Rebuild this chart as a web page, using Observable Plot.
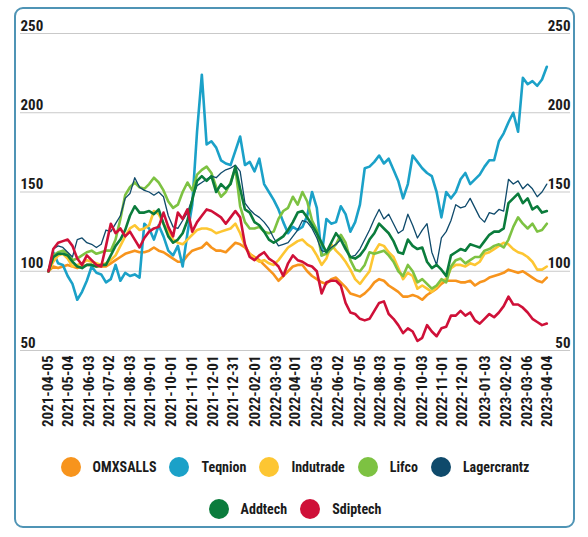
<!DOCTYPE html>
<html>
<head>
<meta charset="utf-8">
<script src="https://cdn.jsdelivr.net/npm/d3@7"></script>
<script src="https://cdn.jsdelivr.net/npm/@observablehq/plot@0.6"></script>
<style>
  html, body { margin: 0; padding: 0; background: #fff; }
  body { width: 588px; height: 537px; position: relative; overflow: hidden;
    font-family: "Roboto Condensed", "Liberation Sans Narrow", "DejaVu Sans Condensed", sans-serif; font-weight: bold; }
  #frame { position: absolute; left: 14px; top: 7px; width: 557px; height: 517px;
    border: 2.5px solid #4f94b5; border-radius: 9px; }
  #chart { position: absolute; left: 0; top: 0; }
  #legend { position: absolute; left: 17px; width: 556px; top: 456px; }
  .row { display: flex; justify-content: center; align-items: center; height: 22px; margin-bottom: 20px; }
  .item { display: flex; align-items: center; margin: 0 6.5px; font-size: 14px; color: #1b1b1b; }
  .dot { width: 20px; height: 20px; border-radius: 50%; margin-right: 12px; }
</style>
</head>
<body>
<div id="frame"></div>
<div id="chart"></div>
<div id="legend"></div>
<script>
const seriesNames = ["OMXSALLS", "Teqnion", "Indutrade", "Lifco", "Lagercrantz", "Addtech", "Sdiptech"];
const seriesColors = ["#f7941d", "#1ba1c8", "#fdc632", "#7dc242", "#0f4a6b", "#0b7c3c", "#cf1038"];
const seriesWidths = [2.6, 2.6, 2.6, 2.6, 1.3, 2.6, 2.6];

const yTicks = [50, 100, 150, 200, 250];
const xTickLabels = ["2021-04-05","2021-05-04","2021-06-03","2021-07-02","2021-08-03","2021-09-01","2021-10-01","2021-11-01","2021-12-01","2021-12-31","2022-02-01","2022-03-03","2022-04-01","2022-05-03","2022-06-02","2022-07-05","2022-08-03","2022-09-01","2022-10-03","2022-11-01","2022-12-01","2023-01-03","2023-02-02","2023-03-06","2023-04-04"];

// weekly closes, indexed to 100 at 2021-04-05
const omxsalls = [100,103,102,103,104,103,102,103,104,104,
103,103,103,105,107,109,111,112,113,112,
112,113,115,113,112,110,108,106,106,110,
113,114,115,118,115,113,113,112,115,118,
117,115,111,109,107,104,101,98,94,97,
100,103,104,104,100,97,95,93,92,95,
96,93,90,86,85,84,86,89,93,95,
94,91,89,87,84,84,85,84,82,85,
87,89,92,94,94,94,93,93,94,91,
93,94,96,97,98,99,101,100,99,100,
98,96,94,93,96];
const teqnion = [100,112,105,104,97,92,82,87,94,103,
99,98,93,95,104,94,99,97,98,96,
130,127,120,129,122,113,110,116,103,124,
142,188,224,180,182,178,170,168,167,176,
185,167,169,163,171,155,150,145,139,131,
124,128,126,128,135,150,140,110,133,130,
131,141,136,125,131,142,165,166,169,173,
168,171,164,157,146,155,173,169,165,162,
160,150,134,150,146,150,158,162,155,158,
161,166,170,170,182,187,194,200,188,222,
218,220,217,221,229];
const indutrade = [100,106,110,111,108,103,104,105,107,106,
105,104,105,107,110,116,122,127,129,126,
127,129,138,136,130,125,120,118,117,120,
123,126,127,127,126,124,125,126,127,130,
124,116,111,108,106,107,105,104,107,111,
115,117,119,120,117,115,110,104,108,117,
113,110,106,101,95,92,96,100,112,117,
116,112,109,102,95,99,97,89,91,89,
87,90,94,95,102,104,104,103,105,104,
106,111,112,114,116,118,117,114,112,111,
109,106,101,101,103];
const lifco = [100,110,112,113,111,107,108,110,112,113,
111,112,113,113,120,133,148,153,156,153,
152,155,159,156,151,144,140,142,150,156,
151,161,164,166,162,153,147,150,156,165,
141,131,127,127,128,125,124,125,133,138,
140,147,142,150,144,132,126,110,111,114,
117,123,118,107,101,100,104,112,111,112,
113,110,106,100,97,104,100,93,95,92,
89,91,95,93,103,107,108,105,107,109,
109,113,114,116,117,115,120,128,134,130,
127,130,125,126,130];
const lagercrantz = [100,114,116,115,112,109,120,121,118,117,
115,117,126,125,130,135,146,149,159,153,
151,150,148,150,147,135,128,127,132,137,
146,154,156,158,160,159,162,164,165,167,
163,143,139,136,134,131,127,121,116,117,
118,122,126,132,131,127,121,113,112,115,
117,120,115,109,110,114,120,126,133,139,
133,136,130,124,126,136,129,121,126,130,
112,104,121,125,132,142,140,141,146,140,
134,131,137,136,139,138,158,155,157,152,
155,152,147,150,155];
const addtech = [100,109,111,111,110,106,103,102,104,104,
103,104,104,110,116,120,126,135,141,137,
137,138,136,139,130,122,118,120,124,132,
145,157,160,157,160,150,155,152,155,166,
152,139,137,131,129,125,120,118,120,122,
126,131,137,138,134,129,124,118,112,118,
124,120,114,109,108,110,114,120,124,130,
127,124,119,112,111,120,116,114,115,106,
102,104,101,97,110,112,114,113,117,116,
115,119,123,125,125,127,143,146,149,143,
146,139,141,137,138];
const sdiptech = [100,114,118,119,120,116,108,104,110,107,
104,103,116,130,124,127,122,125,120,115,
121,125,127,128,137,128,122,137,133,139,
125,131,135,139,138,136,134,130,134,138,
134,117,109,107,110,112,108,106,103,97,
105,110,107,106,104,103,100,86,93,94,
94,91,80,74,73,70,69,70,75,80,
81,73,70,66,61,64,62,56,58,66,
62,59,64,65,72,72,75,72,74,69,
67,70,73,71,74,78,84,79,79,77,
74,70,68,66,67];

const seriesValues = [omxsalls, teqnion, indutrade, lifco, lagercrantz, addtech, sdiptech];
const dates = d3.utcMonday.range(new Date(Date.UTC(2021, 3, 5)), new Date(Date.UTC(2023, 3, 5)));
const parse = d3.utcParse("%Y-%m-%d");
const xTicks = xTickLabels.map(parse);
const FONT = '"Roboto Condensed", "Liberation Sans Narrow", "DejaVu Sans Condensed", sans-serif';

const lineMarks = seriesNames.map((name, k) => {
  const rows = seriesValues[k].map((v, i) => ({date: dates[i], value: v, series: name}));
  return Plot.line(rows, {x: "date", y: "value", stroke: "series", strokeWidth: seriesWidths[k], strokeLinejoin: "round", strokeLinecap: "round"});
});

const chart = Plot.plot({
  width: 588,
  height: 432,
  marginLeft: 48,
  marginRight: 41,
  marginTop: 33,
  marginBottom: 82,
  style: {fontFamily: FONT, fontWeight: "bold", fontSize: "15px", color: "#1b1b1b", background: "transparent"},
  x: {type: "utc", domain: [parse("2021-04-05"), parse("2023-04-04")], axis: null},
  y: {domain: [50, 250], axis: null},
  color: {domain: seriesNames, range: seriesColors},
  marks: [
    Plot.ruleY(yTicks, {stroke: "#c9c9c9", strokeWidth: 1.2, insetLeft: -28, insetRight: -23}),
    Plot.text(yTicks, {y: d => d, text: d => String(d), frameAnchor: "left", textAnchor: "start", lineAnchor: "bottom", dx: -28, dy: -3, fontSize: 15, fill: "#1b1b1b"}),
    Plot.text(yTicks, {y: d => d, text: d => String(d), frameAnchor: "right", textAnchor: "end", lineAnchor: "bottom", dx: 23, dy: -3, fontSize: 15, fill: "#1b1b1b"}),
    Plot.axisX(xTicks, {tickRotate: -90, tickSize: 0, tickPadding: 5, tickFormat: d3.utcFormat("%Y-%m-%d"), fontSize: 15, fill: "#1b1b1b", label: null}),
    ...lineMarks
  ]
});
document.getElementById("chart").appendChild(chart);

const legend = document.getElementById("legend");
[seriesNames.slice(0, 5), seriesNames.slice(5)].forEach(names => {
  const row = document.createElement("div");
  row.className = "row";
  names.forEach(name => {
    const item = document.createElement("div");
    item.className = "item";
    const dot = document.createElement("div");
    dot.className = "dot";
    dot.style.background = seriesColors[seriesNames.indexOf(name)];
    const label = document.createElement("span");
    label.textContent = name;
    item.appendChild(dot);
    item.appendChild(label);
    row.appendChild(item);
  });
  legend.appendChild(row);
});
</script>
</body>
</html>
